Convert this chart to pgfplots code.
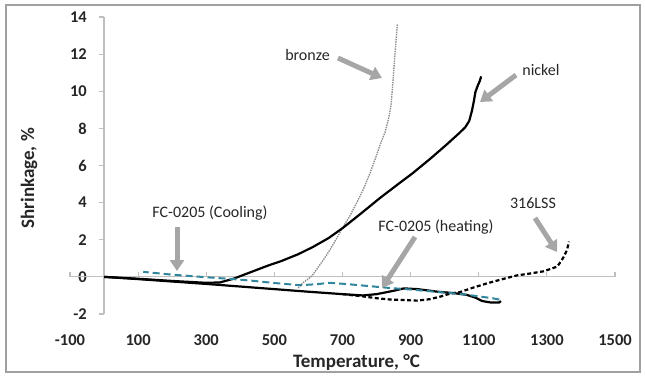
\documentclass[border=0pt]{standalone}
\usepackage{pgfplots}
\pgfplotsset{compat=1.18}
\usepackage{fontspec}
\setmainfont{Carlito}
\usetikzlibrary{arrows.meta}

\definecolor{axisgray}{HTML}{BFBFBF}
\definecolor{framegray}{HTML}{A0A0A0}
\definecolor{arrowgray}{HTML}{A6A6A6}
\definecolor{coolteal}{HTML}{31859C}
\definecolor{bronzegray}{HTML}{8C8C8C}
\definecolor{textgray}{HTML}{262626}

% shrinkage curves, temperature in degC, shrinkage in %
\pgfplotstableread{
T S
570 -0.6
585 -0.3
600 -0.1
610 0.05
624 0.4
645 0.95
663 1.45
682 2.05
702 2.7
722 3.3
742 4.0
762 4.75
781 5.6
797 6.4
810 7.1
825 7.8
835 8.5
842 9.2
846 10.0
850 11.0
854 12.0
857 12.7
861 13.6
}\bronze
\pgfplotstableread{
T S
0 0
100 -0.1
200 -0.22
300 -0.32
340 -0.3
380 -0.1
430 0.25
480 0.6
520 0.85
570 1.22
614 1.62
660 2.1
702 2.65
760 3.5
810 4.25
860 4.95
907 5.6
960 6.4
1007 7.15
1040 7.7
1060 8.05
1072 8.4
1080 8.95
1086 9.5
1090 9.95
1098 10.35
1103 10.55
1107 10.8
}\nickel
\pgfplotstableread{
T S
0 0
50 -0.06
100 -0.12
200 -0.25
300 -0.38
400 -0.52
500 -0.66
600 -0.8
700 -0.93
760 -1.0
800 -0.93
850 -0.75
880 -0.62
920 -0.66
980 -0.8
1030 -0.88
1065 -0.97
1090 -1.12
1110 -1.3
1135 -1.38
1160 -1.38
1165 -1.3
}\fcheat
\pgfplotstableread{
T S
1160 -1.22
1140 -1.15
1100 -1.05
1060 -0.95
1020 -0.88
960 -0.78
900 -0.68
840 -0.6
780 -0.5
720 -0.4
663 -0.32
620 -0.4
575 -0.45
500 -0.33
430 -0.2
380 -0.12
300 -0.02
200 0.12
115 0.27
}\fccool
\pgfplotstableread{
T S
700 -0.93
760 -1.05
800 -1.15
840 -1.22
880 -1.25
918 -1.28
957 -1.2
990 -1.05
1016 -0.9
1045 -0.82
1080 -0.6
1124 -0.35
1170 -0.12
1212 0.08
1250 0.18
1290 0.3
1330 0.55
1342 0.85
1350 1.1
1359 1.45
1365 1.9
}\ssteel

\begin{document}
\begin{tikzpicture}[x=1bp,y=1bp]
\path[use as bounding box] (0,0) rectangle (645,376);
\draw[framegray, line width=1.3bp] (6,4) rectangle (640,371);
\begin{axis}[
  scale only axis, width=545bp, height=297bp,
  at={(70bp,62bp)}, anchor=south west,
  xmin=-100, xmax=1500, ymin=-2, ymax=14,
  xtick={-100,100,300,500,700,900,1100,1300,1500},
  ytick={-2,0,2,4,6,8,10,12,14},
  axis line style={draw=none}, major tick style={draw=none},
  /pgf/number format/assume math mode=true,
  /pgf/number format/1000 sep={},
  ticklabel style={font=\bfseries\fontsize{16.5bp}{18bp}\selectfont, text=textgray},
  xticklabel style={anchor=center, yshift=-26bp, inner sep=0pt},
  yticklabel style={anchor=east, xshift=17bp, inner sep=0pt},
  clip=false,
]
% axis lines crossing at the origin, Excel style
\draw[axisgray, line width=1.2bp] (axis cs:-100,0) -- (axis cs:1500,0);
\draw[axisgray, line width=1.2bp] (axis cs:0,-2) -- (axis cs:0,14);
\pgfplotsinvokeforeach{-100,100,300,500,700,900,1100,1300,1500}{
  \draw[axisgray, line width=1.2bp] (axis cs:#1,0) -- ++(0pt,5bp);
}
\pgfplotsinvokeforeach{-2,0,2,4,6,8,10,12,14}{
  \draw[axisgray, line width=1.2bp] (axis cs:0,#1) -- ++(-5bp,0pt);
}
\addplot[bronzegray, line width=1.4bp, densely dotted] table[x=T,y=S] {\bronze};
\addplot[black, line width=2.2bp, dash pattern=on 4bp off 2.5bp] table[x=T,y=S] {\ssteel};
\addplot[black, line width=2.2bp] table[x=T,y=S] {\fcheat};
\addplot[black, line width=2.2bp] table[x=T,y=S] {\nickel};
\addplot[coolteal, line width=2bp, dash pattern=on 7bp off 4bp] table[x=T,y=S] {\fccool};
\end{axis}

% axis titles
\node[anchor=base, font=\bfseries\fontsize{19bp}{22bp}\selectfont, text=textgray]
  at (356.5,9) {Temperature, °C};
\node[anchor=base, rotate=90, font=\bfseries\fontsize{19bp}{22bp}\selectfont, text=textgray]
  at (34,197.7) {Shrinkage, \%};

% callouts
\begin{scope}[every node/.style={font=\fontsize{16bp}{19bp}\selectfont, text=textgray},
  callout/.style={arrowgray, line width=5bp, -{Triangle[width=14bp,length=11bp]}}]
\node at (307.5,321) {bronze};
\draw[callout] (338,318) -- (382,298);
\node at (541,306) {nickel};
\draw[callout] (516,301) -- (480,274);
\node at (210,163) {FC-0205 (Cooling)};
\draw[callout] (177,149) -- (177,105);
\node at (436,149) {FC-0205 (heating)};
\draw[callout] (415,139) -- (382,88);
\node at (533,173) {316LSS};
\draw[callout] (535,158) -- (557,124);
\end{scope}
\end{tikzpicture}
\end{document}
